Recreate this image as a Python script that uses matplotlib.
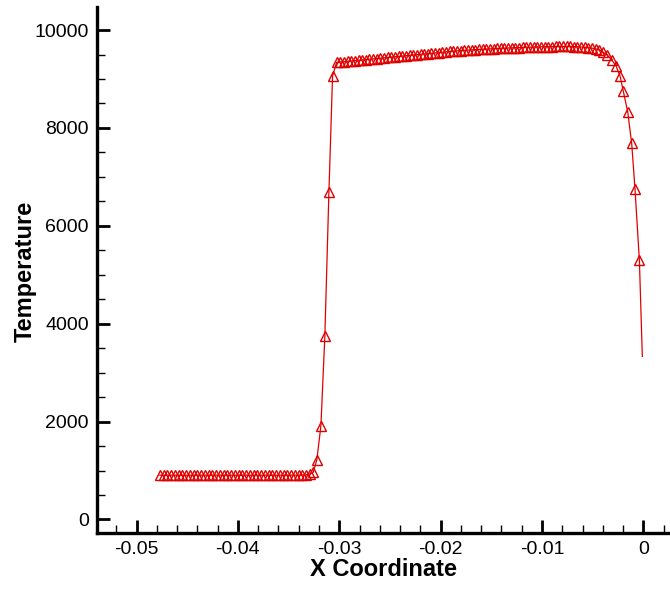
import matplotlib
matplotlib.use("Agg")
import matplotlib.pyplot as plt
from matplotlib.ticker import MultipleLocator, FixedLocator

plt.rcParams['font.family'] = ['Liberation Sans', 'DejaVu Sans']

# ---- data ----
x_upstream = [-0.04770, -0.04733, -0.04696, -0.04659, -0.04622, -0.04585, -0.04548,
              -0.04511, -0.04474, -0.04437, -0.04400, -0.04363, -0.04326, -0.04289,
              -0.04252, -0.04215, -0.04178, -0.04141, -0.04104, -0.04067, -0.04030,
              -0.03993, -0.03956, -0.03919, -0.03882, -0.03845, -0.03808, -0.03771,
              -0.03734, -0.03697, -0.03660, -0.03623, -0.03586, -0.03549, -0.03512,
              -0.03475, -0.03438, -0.03401, -0.03364, -0.03327, -0.03290]
t_upstream = [905, 905, 905, 905, 905, 905, 905, 905, 905, 905, 905, 905, 905, 905,
              905, 905, 905, 905, 905, 905, 905, 905, 905, 905, 905, 905, 905, 905,
              905, 905, 905, 905, 905, 905, 905, 905, 905, 906, 908, 912, 925]

x_shock = [-0.03257, -0.03221, -0.03181, -0.03142, -0.03102, -0.03066]
t_shock = [965, 1220, 1915, 3750, 6690, 9064]

x_layer = [-0.03026, -0.02990, -0.02954, -0.02918, -0.02882, -0.02846, -0.02810,
           -0.02774, -0.02738, -0.02702, -0.02666, -0.02630, -0.02594, -0.02558,
           -0.02522, -0.02486, -0.02450, -0.02414, -0.02378, -0.02342, -0.02306,
           -0.02270, -0.02234, -0.02198, -0.02162, -0.02126, -0.02090, -0.02054,
           -0.02018, -0.01982, -0.01946, -0.01910, -0.01874, -0.01838, -0.01802,
           -0.01766, -0.01730, -0.01694, -0.01658, -0.01622, -0.01586, -0.01550,
           -0.01514, -0.01478, -0.01442, -0.01406, -0.01370, -0.01334, -0.01298,
           -0.01262, -0.01226, -0.01190, -0.01154, -0.01118, -0.01082, -0.01046,
           -0.01010, -0.00974, -0.00938, -0.00902, -0.00866, -0.00830, -0.00794,
           -0.00758, -0.00722, -0.00686, -0.00650, -0.00614, -0.00578, -0.00542,
           -0.00506, -0.00470, -0.00434]
t_layer = [9339, 9346, 9353, 9361, 9368, 9375, 9382, 9389, 9397, 9404, 9411, 9418,
           9425, 9433, 9440, 9447, 9454, 9461, 9469, 9476, 9483, 9490, 9497, 9505,
           9512, 9519, 9526, 9533, 9541, 9548, 9555, 9562, 9569, 9576, 9581, 9586,
           9591, 9596, 9600, 9604, 9608, 9612, 9616, 9620, 9624, 9628, 9631, 9634,
           9637, 9640, 9643, 9646, 9649, 9652, 9654, 9656, 9658, 9660, 9662, 9663,
           9664, 9665, 9665, 9665, 9664, 9662, 9659, 9655, 9649, 9641, 9630, 9615,
           9596]

x_wall = [-0.00395, -0.00356, -0.00313, -0.00270, -0.00230, -0.00198, -0.00154,
          -0.00115, -0.00082, -0.00039, -0.00010]
t_wall = [9543, 9488, 9392, 9269, 9064, 8757, 8327, 7687, 6745, 5292, 3333]

x_ticks = [-0.05, -0.04, -0.03, -0.02, -0.01, 0.0]
x_tick_labels = ["-0.05", "-0.04", "-0.03", "-0.02", "-0.01", "0"]
y_ticks = [0, 2000, 4000, 6000, 8000, 10000]
y_tick_labels = ["0", "2000", "4000", "6000", "8000", "10000"]

x_all = x_upstream + x_shock + x_layer + x_wall
t_all = t_upstream + t_shock + t_layer + t_wall

# ---- figure ----
W, H = 670, 589
fig = plt.figure(figsize=(W / 100, H / 100), dpi=100)
ax = fig.add_axes([97 / W, 1 - 533 / H, (670 - 97) / W, (533 - 7) / H])

red = '#e00000'
ax.plot(x_all, t_all, color=red, lw=0.9, zorder=3,
        marker='^', markersize=7, markerfacecolor='none',
        markeredgecolor=red, markeredgewidth=1.0,
        markevery=list(range(len(x_all) - 1)))

ax.set_xlim(-0.0539, 0.00263)
ax.set_ylim(-276, 10471)

ax.xaxis.set_major_locator(FixedLocator(x_ticks))
ax.set_xticklabels(x_tick_labels)
ax.xaxis.set_minor_locator(MultipleLocator(0.002))
ax.yaxis.set_major_locator(FixedLocator(y_ticks))
ax.set_yticklabels(y_tick_labels)
ax.yaxis.set_minor_locator(MultipleLocator(500))

for s in ['top', 'right']:
    ax.spines[s].set_visible(False)
for s in ['left', 'bottom']:
    ax.spines[s].set_linewidth(2.4)
    ax.spines[s].set_color('black')

ax.tick_params(which='major', direction='in', length=9.5, width=2.0,
               labelsize=14, colors='black')
ax.tick_params(which='minor', direction='in', length=5.5, width=1.0)
ax.tick_params(axis='x', which='major', pad=6)
ax.tick_params(axis='y', which='major', pad=6)

fig.text(384 / W, 1 - 570 / H, "X Coordinate", ha='center', va='center',
         fontsize=17, fontweight='bold')
fig.text(25 / W, 1 - 271 / H, "Temperature", ha='center', va='center',
         fontsize=17, fontweight='bold', rotation=90)

fig.savefig("out.png", dpi=100)
